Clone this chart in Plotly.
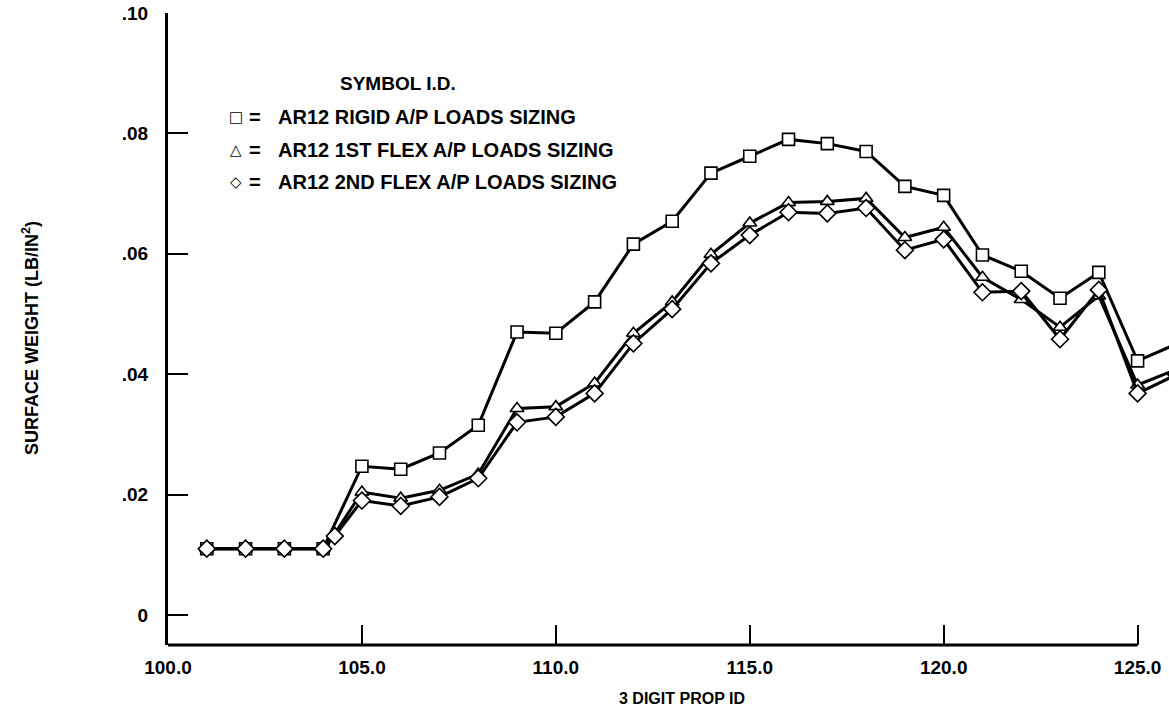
import plotly.graph_objects as go

# ---- data ----
x_rigid = [101, 102, 103, 104, 105, 106, 107, 108, 109, 110, 111, 112, 113,
           114, 115, 116, 117, 118, 119, 120, 121, 122, 123, 124, 125, 126]
rigid = [0.0110, 0.0110, 0.0110, 0.0110, 0.0247, 0.0242, 0.0269, 0.0315,
         0.0470, 0.0468, 0.0520, 0.0616, 0.0654, 0.0734, 0.0762, 0.0790,
         0.0783, 0.0770, 0.0712, 0.0697, 0.0598, 0.0571, 0.0526, 0.0569,
         0.0422, 0.0450]

x_flex = [101, 102, 103, 104, 104.3, 105, 106, 107, 108, 109, 110, 111, 112,
          113, 114, 115, 116, 117, 118, 119, 120, 121, 122, 123, 124, 125, 126]
flex1 = [0.0110, 0.0110, 0.0110, 0.0110, 0.0135, 0.0204, 0.0194, 0.0207,
         0.0234, 0.0343, 0.0346, 0.0385, 0.0468, 0.0520, 0.0599, 0.0651,
         0.0685, 0.0687, 0.0692, 0.0627, 0.0644, 0.0561, 0.0524, 0.0478,
         0.0530, 0.0382, 0.0408]
flex2 = [0.0110, 0.0110, 0.0110, 0.0110, 0.0131, 0.0190, 0.0181, 0.0196,
         0.0227, 0.0320, 0.0329, 0.0368, 0.0451, 0.0508, 0.0584, 0.0631,
         0.0669, 0.0667, 0.0676, 0.0606, 0.0624, 0.0536, 0.0538, 0.0458,
         0.0540, 0.0368, 0.0399]

x_ticks = [100, 105, 110, 115, 120, 125]
x_ticklabels = ["100.0", "105.0", "110.0", "115.0", "120.0", "125.0"]
y_ticks = [0, 0.02, 0.04, 0.06, 0.08, 0.10]
y_ticklabels = ["0", ".02", ".04", ".06", ".08", ".10"]

legend_title = "SYMBOL I.D."
legend_symbols = ["\u25a1", "\u25b3", "\u25c7"]
legend_labels = ["AR12 RIGID A/P LOADS SIZING",
                 "AR12 1ST FLEX A/P LOADS SIZING",
                 "AR12 2ND FLEX A/P LOADS SIZING"]

# ---- layout geometry ----
W, H = 1169, 715
L, R, T, B = 168, 0, 13, 70
PW, PH = W - L - R, H - T - B

def px(x):
    return (x - L) / PW

def py(y):
    return (H - B - y) / PH

FONT = "Liberation Sans, Arial, Helvetica, sans-serif"

fig = go.Figure()

series = [
    (x_rigid, rigid, "square", 12),
    (x_flex, flex1, "triangle-up", 12),
    (x_flex, flex2, "diamond", 13),
]
for xs, ys, sym, sz in series:
    fig.add_trace(go.Scatter(
        x=xs, y=ys, mode="lines+markers",
        line=dict(color="black", width=3),
        marker=dict(symbol=sym, size=sz, color="white",
                    line=dict(color="black", width=1.6)),
        showlegend=False,
    ))

annotations = []
annotations.append(dict(
    text=legend_title, x=px(398), y=py(83), xref="paper", yref="paper",
    showarrow=False, xanchor="center", yanchor="middle",
    font=dict(family=FONT, size=19, color="black", weight="bold")))
row_y = [117, 150, 182]
for sym, lab, ry in zip(legend_symbols, legend_labels, row_y):
    annotations.append(dict(
        text=sym, x=px(236), y=py(ry), xref="paper", yref="paper",
        showarrow=False, xanchor="center", yanchor="middle",
        font=dict(family="DejaVu Sans", size=15, color="black")))
    annotations.append(dict(
        text="=", x=px(255), y=py(ry), xref="paper", yref="paper",
        showarrow=False, xanchor="center", yanchor="middle",
        font=dict(family=FONT, size=20, color="black", weight="bold")))
    annotations.append(dict(
        text=lab, x=px(276), y=py(ry), xref="paper", yref="paper",
        showarrow=False, xanchor="left", yanchor="middle",
        font=dict(family=FONT, size=20, color="black", weight="bold")))

annotations.append(dict(
    text="3 DIGIT PROP ID", x=px(682), y=py(698), xref="paper", yref="paper",
    showarrow=False, xanchor="center", yanchor="middle",
    font=dict(family=FONT, size=16, color="black", weight="bold")))
annotations.append(dict(
    text="SURFACE WEIGHT (LB/IN<sup>2</sup>)", x=px(30), y=py(338),
    xref="paper", yref="paper", textangle=-90,
    showarrow=False, xanchor="center", yanchor="middle",
    font=dict(family=FONT, size=18, color="black", weight="bold")))

fig.update_layout(
    width=W, height=H,
    margin=dict(l=L, r=R, t=T, b=B, pad=0),
    paper_bgcolor="white", plot_bgcolor="white",
    annotations=annotations,
    shapes=[dict(type="line", xref="x", yref="paper", x0=100, x1=125,
                 y0=0, y1=0, line=dict(color="black", width=3))],
    xaxis=dict(
        range=[100, 125.81], showgrid=False, zeroline=False, showline=False,
        tickmode="array", tickvals=x_ticks, ticktext=x_ticklabels,
        ticks="inside", ticklen=20, tickwidth=2, tickcolor="black",
        ticklabelstandoff=9,
        tickfont=dict(family=FONT, size=19, color="black", weight="bold"),
    ),
    yaxis=dict(
        range=[-0.005, 0.10], showgrid=False, zeroline=False, showline=True,
        linecolor="black", linewidth=3,
        tickmode="array", tickvals=y_ticks, ticktext=y_ticklabels,
        ticks="inside", ticklen=20, tickwidth=2, tickcolor="black",
        ticklabelstandoff=13,
        tickfont=dict(family=FONT, size=19, color="black", weight="bold"),
    ),
)

fig.write_html("out.html")
